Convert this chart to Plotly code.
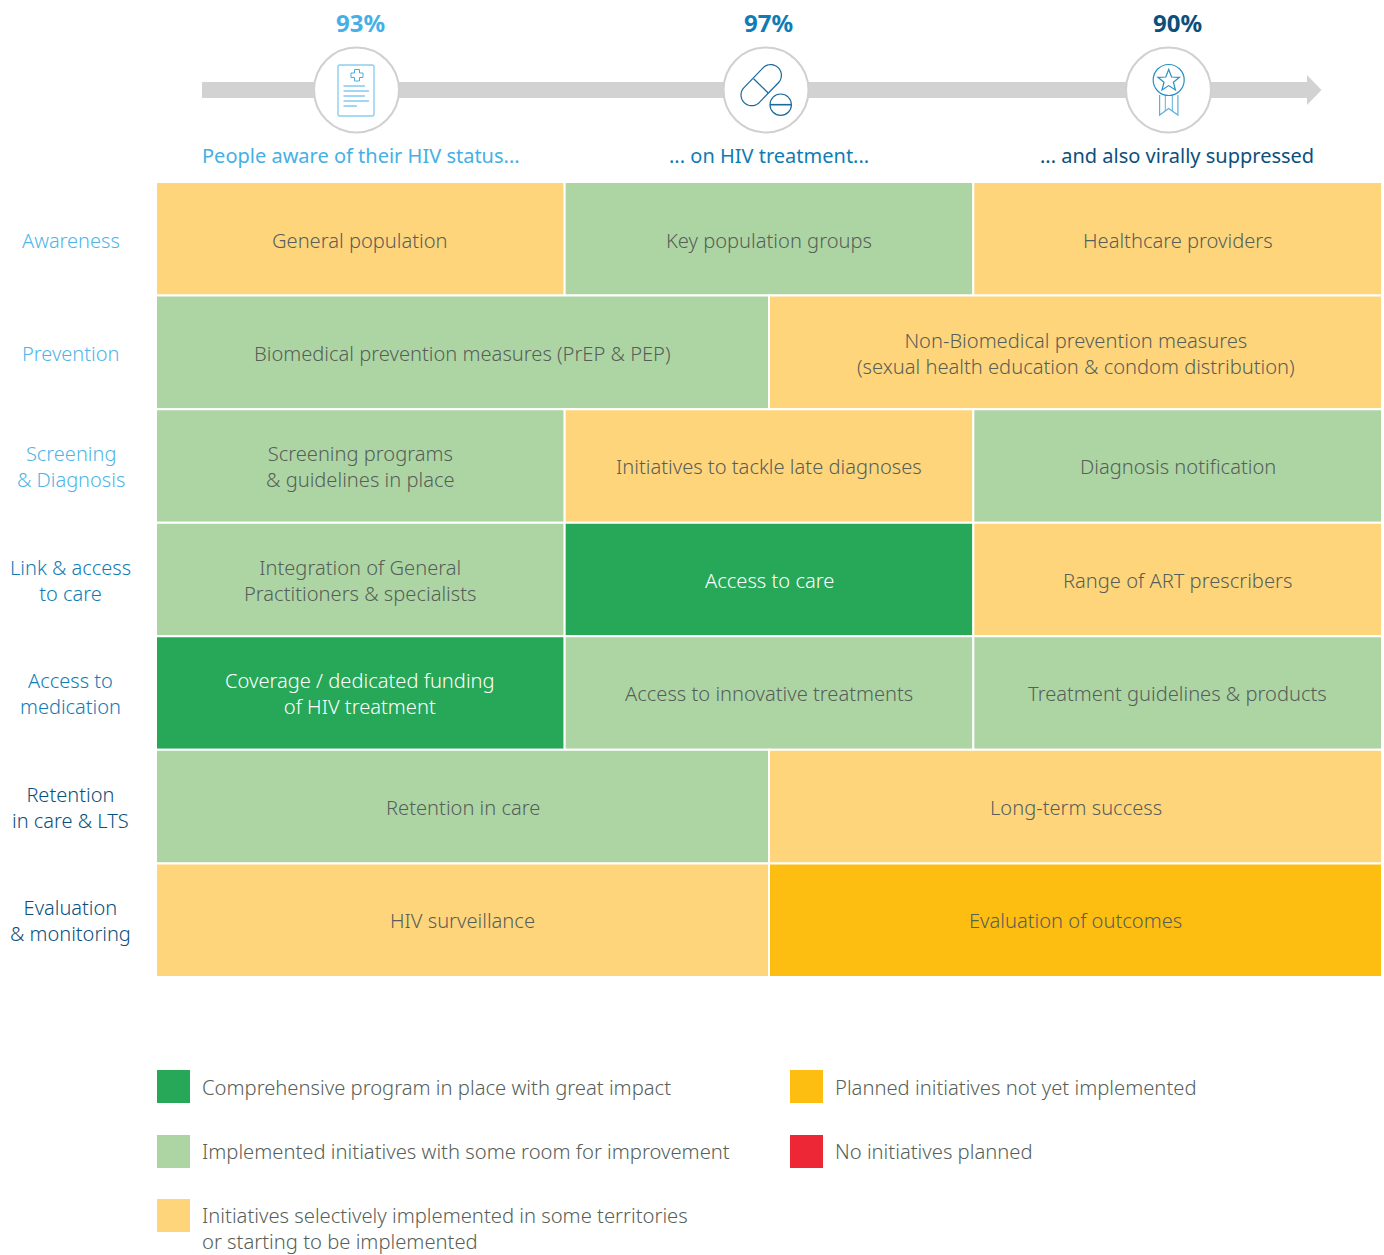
import math
import plotly.graph_objects as go

# ---------- data ----------
rows = ["Awareness", "Prevention", "Screening<br>& Diagnosis", "Link & access<br>to care",
        "Access to<br>medication", "Retention<br>in care & LTS", "Evaluation<br>& monitoring"]
row_colors = ["#4FB5E8", "#4FB5E8", "#4FB5E8", "#0F7CB5", "#0F7CB5", "#0B4F7C", "#0B4F7C"]

cell_labels = [
    ["General population", "Key population groups", "Healthcare providers"],
    ["Biomedical prevention measures (PrEP & PEP)",
     "Non-Biomedical prevention measures<br>(sexual health education & condom distribution)"],
    ["Screening programs<br>& guidelines in place", "Initiatives to tackle late diagnoses", "Diagnosis notification"],
    ["Integration of General<br>Practitioners & specialists", "Access to care", "Range of ART prescribers"],
    ["Coverage / dedicated funding<br>of HIV treatment", "Access to innovative treatments", "Treatment guidelines & products"],
    ["Retention in care", "Long-term success"],
    ["HIV surveillance", "Evaluation of outcomes"],
]
cell_status = [
    ["selective", "some", "selective"],
    ["some", "selective"],
    ["some", "selective", "some"],
    ["some", "great", "selective"],
    ["great", "some", "some"],
    ["some", "selective"],
    ["selective", "planned"],
]
status_colors = {"great": "#27A858", "some": "#ADD5A4", "selective": "#FFD57B",
                 "planned": "#FEBD11", "none": "#EE2737"}
legend_labels = {
    "great": "Comprehensive program in place with great impact",
    "some": "Implemented initiatives with some room for improvement",
    "selective": "Initiatives selectively implemented in some territories<br>or starting to be implemented",
    "planned": "Planned initiatives not yet implemented",
    "none": "No initiatives planned",
}
cascade_pct = ["93%", "97%", "90%"]
cascade_text = ["People aware of their HIV status...", "... on HIV treatment...", "... and also virally suppressed"]
cascade_colors = ["#45B0E6", "#0F7CB5", "#0B4F7C"]

W, H = 1384, 1255
FONT = "Noto Sans"
TXT = "#565F59"
GRAY = "#D2D2D2"

annots = []
def note(x, y, text, color, size=20.0, anchor="center", weight=300, xref="x2", yref="y2", yshift=0):
    annots.append(dict(x=x, y=y, xref=xref, yref=yref, text=text, showarrow=False, yshift=yshift,
                       xanchor=anchor, yanchor="middle", align=anchor,
                       font=dict(family=FONT, size=size, color=color, weight=weight)))

# ---------- grid, drawn as stacked horizontal bars ----------
cell_yshift = [-2, -1, -1, -1, 0, -1, 0]
label_yshift = [-1, -1, 0, -1, -1, -1, -1]
ys, xs, bases, colors = [], [], [], []
for r, (labs, stats) in enumerate(zip(cell_labels, cell_status)):
    span = 6 / len(labs)
    for c, (lab, st) in enumerate(zip(labs, stats)):
        ys.append(r + 0.5)
        xs.append(span)
        bases.append(c * span)
        colors.append(status_colors[st])
        note((c + 0.5) * span, r + 0.5, lab, "white" if st == "great" else TXT, size=20.1,
             xref="x", yref="y", yshift=cell_yshift[r])

fig = go.Figure()
fig.add_trace(go.Bar(
    orientation="h", y=ys, x=xs, base=bases, width=1,
    marker=dict(color=colors, line=dict(color="white", width=2)),
    hoverinfo="skip", xaxis="x", yaxis="y", showlegend=False, cliponaxis=False,
))

# row labels
row_step = (976 - 183) / 7
for i, (lab, col) in enumerate(zip(rows, row_colors)):
    note(70.5, 183 + row_step * (i + 0.5), lab, col, yshift=label_yshift[i])

# ---------- header ----------
shapes = []
def path(d, color=None, width=1.2, fill=None):
    shapes.append(dict(type="path", path=d, xref="x2", yref="y2", layer="above",
                       line=dict(color=color or "rgba(0,0,0,0)", width=width),
                       fillcolor=fill or "rgba(0,0,0,0)"))
def circle(cx, cy, r, color, width=1.2, fill=None):
    shapes.append(dict(type="circle", xref="x2", yref="y2", layer="above",
                       x0=cx - r, x1=cx + r, y0=cy - r, y1=cy + r,
                       line=dict(color=color, width=width), fillcolor=fill or "rgba(0,0,0,0)"))
def seg(x0, y0, x1, y1, color, width=1.2):
    path(f"M{x0},{y0} L{x1},{y1}", color, width)

path("M202,82 L1307,82 L1307,75 L1321.5,90 L1307,105 L1307,98 L202,98 Z", fill=GRAY)
centres = [356.5, 766, 1168.5]
for cx in centres:
    circle(cx, 90, 42.5, "#D0D0D0", 2, "white")

# document icon
c = "#45B0E6"
path("M340,65 L372,65 Q374,65 374,67 L374,114 Q374,116 372,116 L340,116 Q338,116 338,114 L338,67 Q338,65 340,65 Z", "#8CCFEF", 1.4)
path("M354.5,69.5 L359.5,69.5 L359.5,73 L363,73 L363,77.5 L359.5,77.5 L359.5,81 L354.5,81 L354.5,77.5 L351,77.5 L351,73 L354.5,73 Z", c, 1)
for y, x1 in zip([86, 91, 96, 101, 106], [365, 369, 365, 369, 357]):
    seg(343.5, y, x1, y, c, 1)

# pill icon
c = "#1B6A9C"
def capsule(x0, y0, x1, y1, r):
    ang = math.atan2(y1 - y0, x1 - x0)
    pts = []
    for k in range(21):
        a = ang + math.pi / 2 + math.pi * k / 20
        pts.append((x0 + r * math.cos(a), y0 + r * math.sin(a)))
    for k in range(21):
        a = ang - math.pi / 2 + math.pi * k / 20
        pts.append((x1 + r * math.cos(a), y1 + r * math.sin(a)))
    return "M" + " L".join(f"{px:.2f},{py:.2f}" for px, py in pts) + " Z"
path(capsule(751.7, 95, 770.7, 75.3, 10.7), c)
seg(753.6, 78.7, 768.2, 93, c)
circle(780.7, 104.7, 10.7, c)
seg(770, 104.7, 791.4, 104.7, c, 1.6)

# medal icon
c = "#2A8FC4"
circle(1168.7, 80, 15.5, c)
path("M1168.7,69.5 L1171.6,77 L1179.5,77.3 L1173.4,82.2 L1175.4,90 L1168.7,85.6 L1162,90 L1164,82.2 L1157.9,77.3 L1165.8,77 Z", c)
path("M1159.6,95 L1159.6,115 L1168.7,108.5 L1177.9,115 L1177.9,95", "#5FB0D8", 1.2)
seg(1165.3, 96, 1165.3, 111, "#5FB0D8", 1)
seg(1172.3, 96, 1172.3, 111, "#5FB0D8", 1)

pct_x = [360, 768, 1177]
txt_x = [361, 769, 1177]
for px, tx, p, t, col in zip(pct_x, txt_x, cascade_pct, cascade_text, cascade_colors):
    note(px, 22, p, col, size=24, weight=700)
    note(tx, 155, t, col, size=20, weight=400)

# ---------- legend ----------
legend_pos = {"great": (173.5, 1086.5), "some": (173.5, 1151.5), "selective": (173.5, 1215.5),
              "planned": (806.5, 1086.5), "none": (806.5, 1151.5)}
legend_text_y = {"great": 1086.5, "some": 1150.5, "selective": 1227.5, "planned": 1086.5, "none": 1150.5}
for key, (lx, ly) in legend_pos.items():
    fig.add_trace(go.Scatter(x=[lx], y=[ly], mode="markers", xaxis="x2", yaxis="y2", showlegend=False,
                             hoverinfo="skip",
                             marker=dict(symbol="square", size=33, color=status_colors[key], line=dict(width=0))))
    note(lx + 26.5, legend_text_y[key], legend_labels[key], TXT, size=20.2, anchor="left")

fig.update_layout(
    width=W, height=H, autosize=False, margin=dict(l=0, r=0, t=0, b=0),
    paper_bgcolor="white", plot_bgcolor="rgba(0,0,0,0)", barmode="overlay",
    xaxis=dict(domain=[156 / W, 1382 / W], range=[0, 6], visible=False, fixedrange=True),
    yaxis=dict(domain=[(H - 977) / H, (H - 182) / H], range=[7, 0], visible=False, fixedrange=True),
    xaxis2=dict(domain=[0, 1], range=[0, W], visible=False, fixedrange=True, anchor="y2"),
    yaxis2=dict(domain=[0, 1], range=[H, 0], visible=False, fixedrange=True, anchor="x2"),
    shapes=shapes, annotations=annots,
)
fig.write_html("out.html", config={"displayModeBar": False},
               post_script="document.body.style.margin='0';")
